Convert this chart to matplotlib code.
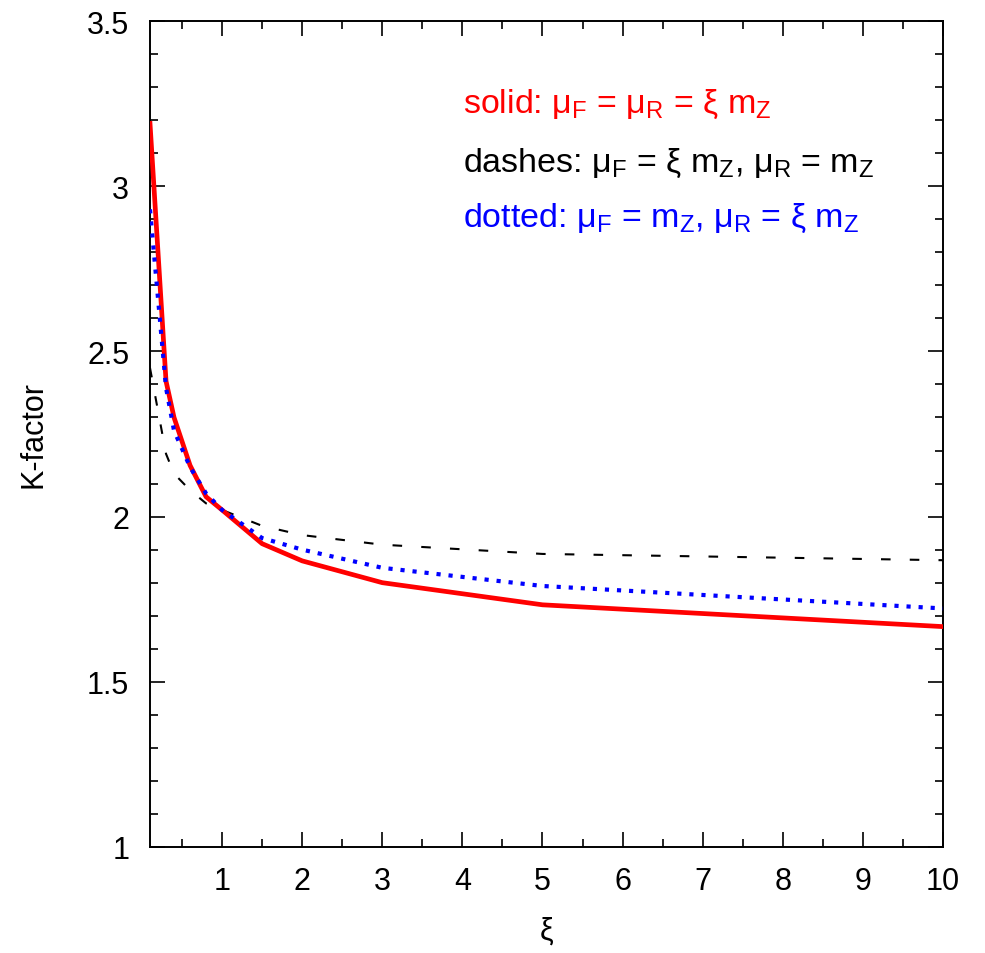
import matplotlib
matplotlib.use("Agg")
import matplotlib.pyplot as plt
from matplotlib.ticker import MultipleLocator, FixedLocator

plt.rcParams["font.family"] = ["Liberation Sans", "DejaVu Sans"]
plt.rcParams["mathtext.fontset"] = "custom"
plt.rcParams["mathtext.rm"] = "Liberation Sans"
plt.rcParams["mathtext.it"] = "Liberation Sans:italic"

# scale factor xi and K-factor
xi = [0.1, 0.3, 0.4, 0.6, 0.8, 1.0, 1.5, 2.0, 3.0, 5.0, 10.0]
k_solid = [3.19, 2.41, 2.30, 2.155, 2.06, 2.02, 1.918, 1.866, 1.80, 1.733, 1.667]
k_dashed = [2.45, 2.19, 2.13, 2.08, 2.04, 2.02, 1.972, 1.944, 1.915, 1.887, 1.868]
k_dotted = [2.93, 2.39, 2.26, 2.15, 2.07, 2.02, 1.935, 1.90, 1.845, 1.79, 1.722]

x_ticks = [1, 2, 3, 4, 5, 6, 7, 8, 9, 10]
y_ticks = [1, 1.5, 2, 2.5, 3, 3.5]

fig = plt.figure(figsize=(9.85, 9.54), dpi=100)
ax = fig.add_axes([150 / 985, 106 / 954, 793 / 985, 826 / 954])

ax.plot(xi, k_solid, color="red", lw=3.4, zorder=3)
ax.plot(xi, k_dashed, color="black", lw=1.5, dashes=(4.6, 9.2), zorder=2)
ax.plot(xi, k_dotted, color="blue", lw=3.0, dashes=(1.0, 1.9), zorder=4)

ax.set_xlim(0.1, 10)
ax.set_ylim(1, 3.5)
ax.xaxis.set_major_locator(FixedLocator(x_ticks))
ax.xaxis.set_minor_locator(MultipleLocator(0.5))
ax.yaxis.set_major_locator(FixedLocator(y_ticks))
ax.yaxis.set_minor_locator(MultipleLocator(0.1))
ax.set_yticklabels(["1", "1.5", "2", "2.5", "3", "3.5"])

ax.tick_params(which="both", direction="in", top=True, right=True,
               width=1.2, labelsize=22, color="black")
ax.tick_params(axis="x", which="major", length=11, pad=14)
ax.tick_params(axis="y", which="major", length=11, pad=15)
ax.tick_params(which="minor", length=5.5)
for s in ax.spines.values():
    s.set_linewidth(1.4)

ax.set_xlabel("ξ", fontsize=22, labelpad=14)
ax.set_ylabel("K-factor", fontsize=22, labelpad=28)

tx = (463 - 150) / 793
ax.text(tx, 0.9, r"solid: μ$_{\rm F}$ = μ$_{\rm R}$ = ξ m$_{\rm Z}$",
        transform=ax.transAxes, color="red", fontsize=24.5, va="center")
ax.text(tx, 0.829, r"dashes: μ$_{\rm F}$ = ξ m$_{\rm Z}$, μ$_{\rm R}$ = m$_{\rm Z}$",
        transform=ax.transAxes, color="black", fontsize=24.5, va="center")
ax.text(tx, 0.762, r"dotted: μ$_{\rm F}$ = m$_{\rm Z}$, μ$_{\rm R}$ = ξ m$_{\rm Z}$",
        transform=ax.transAxes, color="blue", fontsize=24.5, va="center")

fig.savefig("out.png", dpi=100)
